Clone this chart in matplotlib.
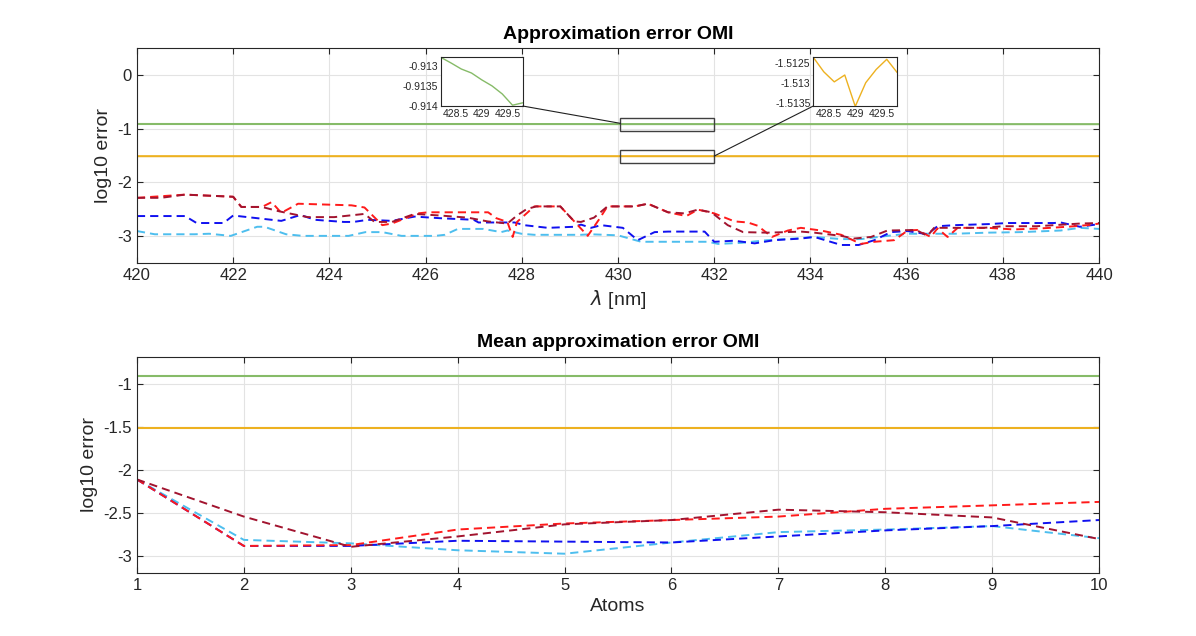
import matplotlib

matplotlib.use("Agg")

import matplotlib.pyplot as plt
from matplotlib.patches import ConnectionPatch, Rectangle

plt.rcParams["font.family"] = ["Liberation Sans", "DejaVu Sans"]
plt.rcParams["axes.unicode_minus"] = False

# --- top panel: log10 approximation error vs wavelength ---
ref_wl = [420, 422, 424, 426, 428, 428.2, 428.4, 428.6, 428.8, 429.0, 429.2,
          429.4, 429.6, 429.8, 432, 434, 436, 438, 440]
green_err = [-0.9120, -0.9123, -0.9125, -0.9126, -0.9127, -0.91279, -0.91293,
             -0.91308, -0.91318, -0.91335, -0.91350, -0.91370, -0.91398,
             -0.91392, -0.9142, -0.9144, -0.9146, -0.9148, -0.9150]
orange_err = [-1.5128, -1.5131, -1.5126, -1.5129, -1.5127, -1.51237, -1.51273,
              -1.51298, -1.51281, -1.51359, -1.51300, -1.51267, -1.51242,
              -1.51275, -1.5130, -1.5128, -1.5126, -1.5129, -1.5127]

darkred_wl = [420.0, 420.5, 421.0, 421.5, 422.0, 422.17, 422.6, 422.9, 423.0,
              423.55, 424.1, 424.73, 424.94, 425.3, 425.77, 426.3, 426.88,
              427.29, 427.7, 427.9, 428.1, 428.3, 428.8, 429.09, 429.23, 429.5,
              429.78, 430.35, 430.62, 431.04, 431.38, 431.66, 431.94, 432.28,
              432.6, 433.1, 433.5, 433.8, 434.08, 434.64, 434.9, 435.26, 435.6,
              436.2, 436.43, 436.57, 437.6, 438.0, 438.7, 439.6, 440.0]
darkred_err = [-2.29, -2.29, -2.23, -2.25, -2.27, -2.46, -2.46, -2.53, -2.55,
               -2.65, -2.65, -2.59, -2.74, -2.74, -2.59, -2.62, -2.66, -2.73,
               -2.77, -2.62, -2.50, -2.45, -2.45, -2.73, -2.74, -2.66, -2.45,
               -2.45, -2.40, -2.56, -2.58, -2.51, -2.56, -2.80, -2.93, -2.94,
               -2.93, -2.92, -2.94, -3.00, -3.05, -3.02, -2.90, -2.89, -3.00,
               -2.85, -2.85, -2.82, -2.82, -2.77, -2.76]

red_wl = [420.0, 421.0, 422.0, 422.17, 422.6, 422.8, 423.0, 423.35, 424.46,
          424.73, 425.1, 425.3, 425.84, 426.05, 427.3, 427.47, 427.7, 427.81,
          427.9, 428.26, 428.8, 429.09, 429.37, 429.6, 429.78, 430.35, 430.62,
          431.04, 431.42, 431.66, 432.0, 432.42, 432.7, 432.9, 433.2, 433.53,
          433.8, 434.22, 434.64, 435.05, 435.33, 435.74, 436.02, 436.22, 436.5,
          436.64, 436.85, 437.06, 437.68, 438.23, 438.8, 439.34, 439.75, 440.0]
red_err = [-2.29, -2.23, -2.27, -2.46, -2.46, -2.37, -2.57, -2.40, -2.43,
           -2.47, -2.80, -2.77, -2.58, -2.56, -2.56, -2.67, -2.74, -3.02,
           -2.74, -2.45, -2.45, -2.73, -3.00, -2.70, -2.45, -2.45, -2.40,
           -2.56, -2.63, -2.51, -2.58, -2.73, -2.75, -2.81, -3.02, -2.90,
           -2.85, -2.90, -2.98, -3.15, -3.11, -3.08, -2.90, -2.89, -3.02,
           -2.86, -3.02, -2.85, -2.85, -2.88, -2.86, -2.83, -2.80, -2.77]

blue_wl = [420.0, 421.0, 421.24, 421.8, 422.0, 422.5, 423.0, 423.4, 423.7,
           424.3, 424.5, 424.8, 425.3, 425.77, 426.3, 427.0, 427.1, 427.85,
           428.05, 428.54, 429.09, 429.23, 429.44, 429.65, 430.1, 430.41,
           430.76, 431.04, 431.8, 432.0, 432.42, 432.84, 433.25, 433.8, 434.08,
           434.64, 435.0, 435.33, 435.67, 436.02, 436.43, 436.64, 437.0, 437.7,
           438.09, 439.06, 439.2, 439.6, 440.0]
blue_err = [-2.63, -2.63, -2.76, -2.76, -2.62, -2.67, -2.72, -2.61, -2.70,
            -2.74, -2.74, -2.70, -2.72, -2.64, -2.67, -2.70, -2.75, -2.75,
            -2.80, -2.85, -2.83, -2.79, -2.85, -2.80, -2.85, -3.08, -2.93,
            -2.92, -2.92, -3.11, -3.09, -3.14, -3.08, -3.05, -3.02, -3.17,
            -3.17, -3.08, -2.93, -2.91, -2.97, -2.82, -2.80, -2.78, -2.76,
            -2.76, -2.75, -2.83, -2.78]

lightblue_wl = [420.0, 420.37, 421.2, 421.5, 421.95, 422.5, 422.65, 423.1,
                423.45, 424.4, 424.75, 425.1, 425.5, 426.2, 426.4, 426.67,
                427.2, 427.57, 427.7, 427.99, 428.26, 429.23, 429.44, 430.0,
                430.48, 431.87, 432.08, 432.57, 433.1, 433.67, 434.08, 434.64,
                435.05, 435.6, 436.02, 437.0, 437.68, 438.37, 439.2, 439.6, 440.0]
lightblue_err = [-2.91, -2.97, -2.97, -2.96, -3.00, -2.83, -2.83, -2.97, -3.00,
                 -3.00, -2.93, -2.93, -3.00, -3.00, -2.98, -2.87, -2.87, -2.93,
                 -2.90, -2.96, -2.98, -2.98, -2.97, -2.99, -3.11, -3.11, -3.15,
                 -3.13, -3.08, -3.05, -3.02, -3.06, -3.06, -3.00, -2.96, -2.96,
                 -2.94, -2.93, -2.90, -2.85, -2.87]

# --- bottom panel: mean error vs number of atoms ---
atoms = [1, 2, 3, 4, 5, 6, 7, 8, 9, 10]
green_mean = [-0.915, -0.915, -0.915, -0.915, -0.915, -0.915, -0.915, -0.915, -0.915, -0.915]
orange_mean = [-1.513, -1.513, -1.513, -1.513, -1.513, -1.513, -1.513, -1.513, -1.513, -1.513]
darkred_mean = [-2.11, -2.54, -2.89, -2.77, -2.63, -2.58, -2.46, -2.49, -2.55, -2.80]
red_mean = [-2.11, -2.88, -2.87, -2.69, -2.62, -2.58, -2.54, -2.45, -2.41, -2.37]
blue_mean = [-2.11, -2.88, -2.88, -2.82, -2.83, -2.84, -2.77, -2.70, -2.65, -2.58]
lightblue_mean = [-2.11, -2.81, -2.85, -2.93, -2.97, -2.84, -2.72, -2.69, -2.65, -2.79]

GREEN = "#86BB68"
ORANGE = "#EDB120"
DARKRED = "#A2142F"
RED = "#FF1A1A"
BLUE = "#1010F0"
LIGHTBLUE = "#4DBEEE"
AXCOL = "#262626"
DASH = (0, (4.2, 2.6))


def style_axes(ax, labelsize=12):
    ax.grid(True, color="#E3E3E3", linewidth=0.8)
    ax.set_axisbelow(True)
    ax.tick_params(direction="in", top=True, right=True, length=4,
                   labelsize=labelsize, colors=AXCOL, width=0.8)
    for sp in ax.spines.values():
        sp.set_color(AXCOL)
        sp.set_linewidth(0.8)


fig = plt.figure(figsize=(11.96, 6.36), dpi=100)

ax1 = fig.add_axes([0.1145, 0.587, 0.8045, 0.337])
ax1.plot(ref_wl, green_err, color=GREEN, linewidth=1.5)
ax1.plot(ref_wl, orange_err, color=ORANGE, linewidth=1.5)
ax1.plot(lightblue_wl, lightblue_err, color=LIGHTBLUE, linewidth=1.4, linestyle=DASH)
ax1.plot(blue_wl, blue_err, color=BLUE, linewidth=1.4, linestyle=DASH)
ax1.plot(red_wl, red_err, color=RED, linewidth=1.4, linestyle=DASH)
ax1.plot(darkred_wl, darkred_err, color=DARKRED, linewidth=1.4, linestyle=DASH)
ax1.set_xlim(420, 440)
ax1.set_ylim(-3.5, 0.5)
ax1.set_xticks(range(420, 441, 2))
ax1.set_yticks([-3, -2, -1, 0])
style_axes(ax1)
ax1.set_title("Approximation error OMI", fontsize=14, fontweight="bold", pad=7)
ax1.set_xlabel(r"$\lambda$ [nm]", fontsize=14, color=AXCOL)
ax1.set_ylabel("log10 error", fontsize=14, color=AXCOL)

# zoom boxes in the main axes
ax1.add_patch(Rectangle((430.05, -1.04), 1.95, 0.24, fill=False,
                        edgecolor="#404040", linewidth=1.0, zorder=5))
ax1.add_patch(Rectangle((430.05, -1.64), 1.95, 0.25, fill=False,
                        edgecolor="#404040", linewidth=1.0, zorder=5))

# insets
ins1 = fig.add_axes([0.3685, 0.8333, 0.0686, 0.0766])
ins1.plot(ref_wl, green_err, color=GREEN, linewidth=1.0)
ins1.set_xlim(428.2, 429.8)
ins1.set_ylim(-0.914, -0.91279)
ins1.set_xticks([428.5, 429, 429.5])
ins1.set_xticklabels(["428.5", "429", "429.5"])
ins1.set_yticks([-0.914, -0.9135, -0.913])
ins1.set_yticklabels(["-0.914", "-0.9135", "-0.913"])

ins2 = fig.add_axes([0.680, 0.8333, 0.0702, 0.0766])
ins2.plot(ref_wl, orange_err, color=ORANGE, linewidth=1.0)
ins2.set_xlim(428.2, 429.8)
ins2.set_ylim(-1.51358, -1.51237)
ins2.set_xticks([428.5, 429, 429.5])
ins2.set_xticklabels(["428.5", "429", "429.5"])
ins2.set_yticks([-1.5135, -1.513, -1.5125])
ins2.set_yticklabels(["-1.5135", "-1.513", "-1.5125"])

for ins in (ins1, ins2):
    ins.tick_params(direction="in", length=0, labelsize=7.5, colors=AXCOL, pad=2)
    for sp in ins.spines.values():
        sp.set_color(AXCOL)
        sp.set_linewidth(0.8)

con1 = ConnectionPatch(xyA=(1, 0), coordsA=ins1.transAxes,
                       xyB=(430.05, -0.9), coordsB=ax1.transData,
                       color="#202020", linewidth=0.8)
con2 = ConnectionPatch(xyA=(0, 0), coordsA=ins2.transAxes,
                       xyB=(432.0, -1.51), coordsB=ax1.transData,
                       color="#202020", linewidth=0.8)
fig.add_artist(con1)
fig.add_artist(con2)

ax2 = fig.add_axes([0.1145, 0.0995, 0.8045, 0.3395])
ax2.plot(atoms, green_mean, color=GREEN, linewidth=1.5)
ax2.plot(atoms, orange_mean, color=ORANGE, linewidth=1.5)
ax2.plot(atoms, lightblue_mean, color=LIGHTBLUE, linewidth=1.4, linestyle=DASH)
ax2.plot(atoms, blue_mean, color=BLUE, linewidth=1.4, linestyle=DASH)
ax2.plot(atoms, red_mean, color=RED, linewidth=1.4, linestyle=DASH)
ax2.plot(atoms, darkred_mean, color=DARKRED, linewidth=1.4, linestyle=DASH)
ax2.set_xlim(1, 10)
ax2.set_ylim(-3.19, -0.69)
ax2.set_xticks(atoms)
ax2.set_yticks([-3, -2.5, -2, -1.5, -1])
ax2.set_yticklabels(["-3", "-2.5", "-2", "-1.5", "-1"])
style_axes(ax2)
ax2.set_title("Mean approximation error OMI", fontsize=14, fontweight="bold", pad=7)
ax2.set_xlabel("Atoms", fontsize=14, color=AXCOL)
ax2.set_ylabel("log10 error", fontsize=14, color=AXCOL)

fig.savefig("out.png", dpi=100)
